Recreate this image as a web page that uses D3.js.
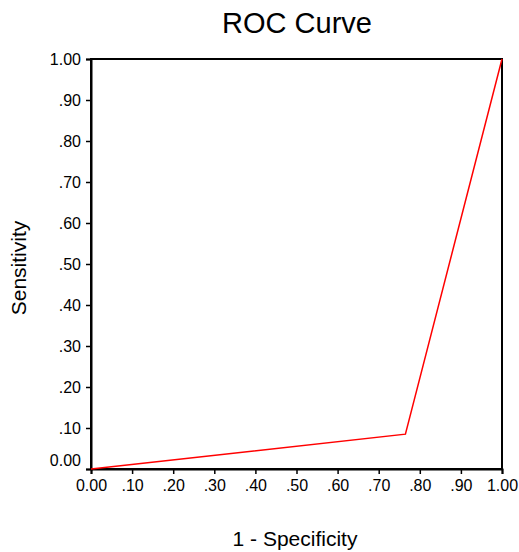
<!DOCTYPE html>
<html>
<head>
<meta charset="utf-8">
<script src="https://cdn.jsdelivr.net/npm/d3@7"></script>
<style>
  html, body { margin: 0; padding: 0; background: #fff; }
  svg { display: block; font-family: "Liberation Sans", Arial, sans-serif; }
</style>
</head>
<body>
<svg id="roc-svg" width="519" height="552"></svg>
<script>
// ROC curve: 1 - specificity vs sensitivity
const fpr = [0, 0.765, 1];
const tpr = [0, 0.085, 1];
const tickValues = [0, 0.1, 0.2, 0.3, 0.4, 0.5, 0.6, 0.7, 0.8, 0.9, 1];
const tickLabels = ["0.00", ".10", ".20", ".30", ".40", ".50", ".60", ".70", ".80", ".90", "1.00"];

const svg = d3.select("#roc-svg");
const w = 519, h = 552, m = { t: 59, r: 17, b: 83, l: 91 };

const x = d3.scaleLinear().domain([0, 1]).range([m.l, w - m.r]);
const y = d3.scaleLinear().domain([0, 1]).range([h - m.b, m.t]);
const fmt = d => tickLabels[tickValues.findIndex(v => Math.abs(v - d) < 1e-9)];

svg.append("rect")
  .attr("x", m.l).attr("y", m.t)
  .attr("width", w - m.l - m.r).attr("height", h - m.t - m.b)
  .attr("fill", "none").attr("stroke", "#000").attr("stroke-width", 2);

svg.append("g").attr("transform", `translate(0,${h - m.b})`)
  .call(d3.axisBottom(x).tickValues(tickValues).tickFormat(fmt).tickSize(5).tickPadding(6))
  .call(g => g.select(".domain").attr("stroke", "#000").attr("stroke-width", 2))
  .call(g => g.selectAll("line").attr("stroke", "#000").attr("stroke-width", 1.5))
  .selectAll("text").attr("fill", "#000").style("font-size", "16px")
  .style("font-family", "'Liberation Sans', Arial, sans-serif");

svg.append("g").attr("transform", `translate(${m.l},0)`)
  .call(d3.axisLeft(y).tickValues(tickValues).tickFormat(fmt).tickSize(5).tickPadding(5))
  .call(g => g.select(".domain").attr("stroke", "#000").attr("stroke-width", 2))
  .call(g => g.selectAll("line").attr("stroke", "#000").attr("stroke-width", 1.5))
  .call(g => g.selectAll(".tick text").filter(d => d === 0).attr("dy", "-0.2em"))
  .selectAll("text").attr("fill", "#000").style("font-size", "16px")
  .style("font-family", "'Liberation Sans', Arial, sans-serif");

const pts = fpr.map((v, i) => ({ fx: v, ty: tpr[i] }));
svg.append("path").datum(pts)
  .attr("fill", "none").attr("stroke", "#ff0000").attr("stroke-width", 1.5)
  .attr("d", d3.line().x(d => x(d.fx)).y(d => y(d.ty)));

svg.append("text")
  .attr("x", 297).attr("y", 32.5)
  .attr("text-anchor", "middle").attr("fill", "#000")
  .style("font-size", "29px").text("ROC Curve");

svg.append("text")
  .attr("x", 295).attr("y", 546)
  .attr("text-anchor", "middle").attr("fill", "#000")
  .style("font-size", "21px").text("1 - Specificity");

svg.append("text")
  .attr("transform", `translate(26,268) rotate(-90)`)
  .attr("text-anchor", "middle").attr("fill", "#000")
  .style("font-size", "21px").text("Sensitivity");
</script>
</body>
</html>
